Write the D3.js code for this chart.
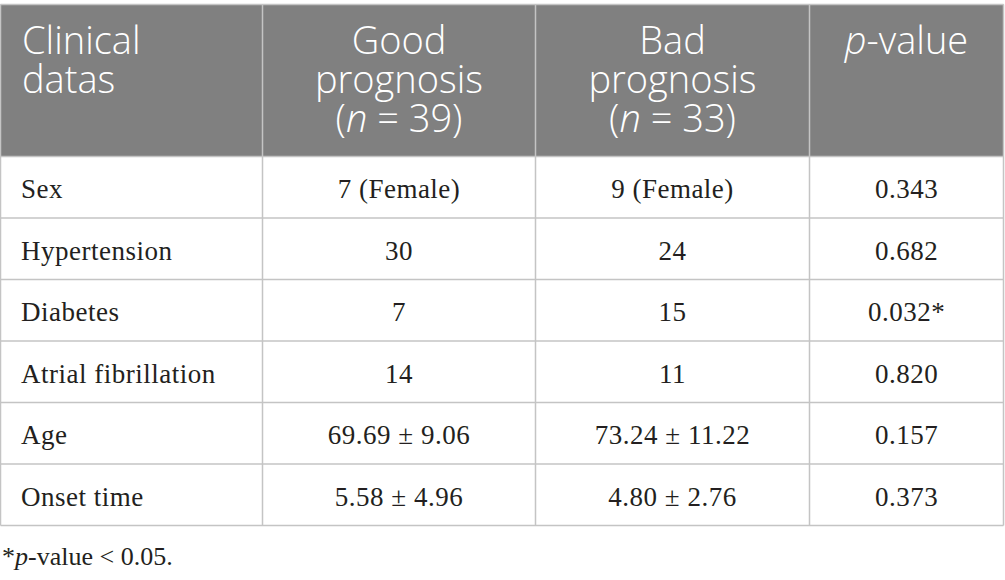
<!DOCTYPE html>
<html>
<head>
<meta charset="utf-8">
<script src="https://cdn.jsdelivr.net/npm/d3@7"></script>
<style>
  body { margin: 0; background: #fff; }
</style>
</head>
<body>
<div id="table"></div>
<script>
// header lines, _x_ marks italic
const headers = [
  ["Clinical", "datas"],
  ["Good", "prognosis", "(_n_ = 39)"],
  ["Bad", "prognosis", "(_n_ = 33)"],
  ["_p_-value"]
];
const rowLabels = ["Sex", "Hypertension", "Diabetes", "Atrial fibrillation", "Age", "Onset time"];
const goodValues = ["7 (Female)", "30", "7", "14", "69.69 ± 9.06", "5.58 ± 4.96"];
const badValues = ["9 (Female)", "24", "15", "11", "73.24 ± 11.22", "4.80 ± 2.76"];
const pValues = ["0.343", "0.682", "0.032*", "0.820", "0.157", "0.373"];
const footnote = "*_p_-value < 0.05.";

const width = 1005, height = 580;
const colEdges = [0.5, 262.5, 535.5, 809.5, 1003.5];
const tableTop = 4.5, headBottom = 156.5, tableBottom = 525.5;
const border = "#c4c4c4";

const svg = d3.select("#table").append("svg")
  .attr("width", width)
  .attr("height", height);

const y = d3.scaleBand()
  .domain(rowLabels)
  .range([headBottom, tableBottom]);

const columns = d3.range(headers.length);
const colMid = i => (colEdges[i] + colEdges[i + 1]) / 2;

// write text with _italic_ parts as tspans
function richText(sel, str) {
  str.split("_").forEach((part, i) => {
    if (!part) return;
    sel.append("tspan")
      .style("font-style", i % 2 ? "italic" : "normal")
      .text(part);
  });
}

// header background
svg.append("rect")
  .attr("x", colEdges[0])
  .attr("y", tableTop)
  .attr("width", colEdges[4] - colEdges[0])
  .attr("height", headBottom - tableTop)
  .attr("fill", "#808080");

// header text
columns.forEach(c => {
  headers[c].forEach((line, k) => {
    const t = svg.append("text")
      .attr("x", c === 0 ? 22 : colMid(c))
      .attr("y", 54 + k * 39)
      .attr("text-anchor", c === 0 ? "start" : "middle")
      .style("font-family", "'Open Sans', 'Noto Sans', sans-serif")
      .style("font-weight", 300)
      .style("font-size", "38px")
      .style("fill", "#fff");
    richText(t, line);
  });
});

// body cells
const tableRows = rowLabels.map((label, i) => [label, goodValues[i], badValues[i], pValues[i]]);

const rowG = svg.selectAll("g.row")
  .data(tableRows)
  .join("g")
  .attr("class", "row");

rowG.selectAll("text")
  .data((d, i) => d.map((v, c) => ({ v, c, row: rowLabels[i] })))
  .join("text")
  .attr("x", d => d.c === 0 ? 21 : colMid(d.c))
  .attr("y", d => y(d.row) + y.bandwidth() / 2)
  .attr("dy", "0.4em")
  .attr("text-anchor", d => d.c === 0 ? "start" : "middle")
  .style("font-family", "'Liberation Serif', 'DejaVu Serif', serif")
  .style("font-size", "27px")
  .style("letter-spacing", "0.5px")
  .style("fill", "#231f20")
  .text(d => d.v);

// horizontal rules
svg.selectAll("line.h")
  .data([tableTop, headBottom].concat(rowLabels.slice(1).map(r => y(r))).concat([tableBottom]))
  .join("line")
  .attr("class", "h")
  .attr("x1", colEdges[0]).attr("x2", colEdges[4])
  .attr("y1", d => d).attr("y2", d => d)
  .attr("stroke", border)
  .attr("stroke-width", 1.5);

// vertical rules
svg.selectAll("line.v")
  .data(colEdges)
  .join("line")
  .attr("class", "v")
  .attr("x1", d => d).attr("x2", d => d)
  .attr("y1", tableTop).attr("y2", tableBottom)
  .attr("stroke", border)
  .attr("stroke-width", 1.5);

// footnote
const fn = svg.append("text")
  .attr("x", 2)
  .attr("y", 565)
  .style("font-family", "'Liberation Serif', 'DejaVu Serif', serif")
  .style("font-size", "26px")
  .style("fill", "#231f20");
richText(fn, footnote);
</script>
</body>
</html>
